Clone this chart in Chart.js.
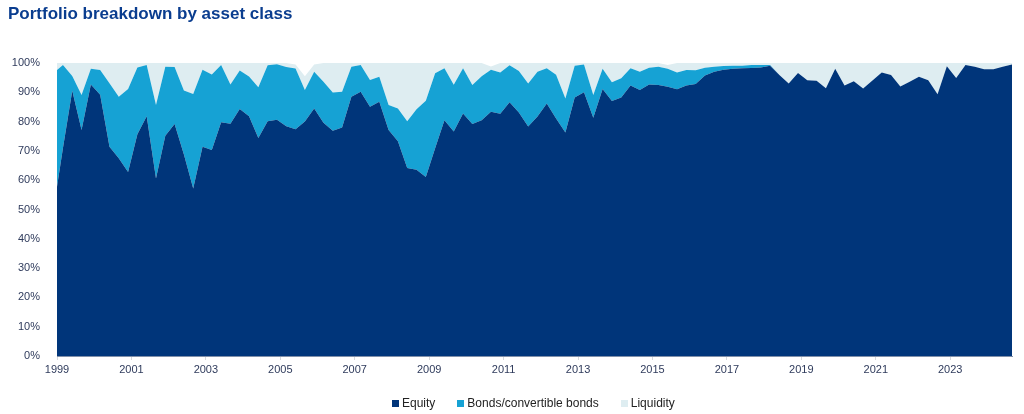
<!DOCTYPE html>
<html>
<head>
<meta charset="utf-8">
<script src="https://cdn.jsdelivr.net/npm/chart.js@4.4.1/dist/chart.umd.min.js"></script>
<style>
    html, body { margin: 0; padding: 0; background: #fff; }
    #wrap { position: relative; width: 1024px; height: 414px; overflow: hidden; }
    #title { position: absolute; left: 8px; top: 4px; font: bold 17px "Liberation Sans", Arial, sans-serif; color: #0a3d8f; }
    #legend { position: absolute; left: 392px; top: 396px; display: flex; font: 12px "Liberation Sans", Arial, sans-serif; color: #222; }
    #legend span.item { display: flex; align-items: center; margin-right: 22px; }
    #legend span.box { display: inline-block; width: 7px; height: 7px; margin-right: 3px; }
</style>
</head>
<body>
<div id="wrap">
    <div id="title">Portfolio breakdown by asset class</div>
    <canvas id="myChart" width="1024" height="414"></canvas>
    <div id="legend"></div>
</div>
<script>
// sample dates (decimal years): start of 1999, then every quarter from end of February 1999
const dates = [1999.0];
for (let i = 0; i < 103; i++) {
    dates.push(1999.16 + i * 0.25);
}
const tickYears = [1999, 2001, 2003, 2005, 2007, 2009, 2011, 2013, 2015, 2017, 2019, 2021, 2023];

const seriesNames = ['Equity', 'Bonds/convertible bonds', 'Liquidity'];
const seriesColors = ['#00357a', '#16a2d4', '#deedf1'];

// portfolio weights in %
const equity = [
    57.8, 71.0, 90.5, 77.1, 92.7, 89.2, 71.4, 67.5, 62.8, 75.7,
    81.8, 60.6, 75.2, 79.2, 68.8, 57.2, 71.4, 70.3, 79.8, 79.3,
    84.3, 81.8, 74.4, 80.1, 80.6, 78.4, 77.4, 80.0, 84.5, 79.6,
    76.9, 78.0, 88.5, 90.2, 85.1, 86.8, 77.1, 73.3, 64.2, 63.6,
    61.1, 70.9, 80.5, 76.6, 82.8, 79.2, 80.5, 83.4, 82.7, 86.6,
    83.1, 78.3, 81.7, 86.2, 81.1, 76.3, 88.2, 90.0, 81.3, 91.1,
    87.0, 88.2, 92.3, 90.8, 92.7, 92.5, 91.9, 91.0, 92.3, 92.8,
    95.7, 97.0, 97.7, 98.0, 98.2, 98.3, 98.5, 99.1, 95.9, 93.0,
    96.6, 94.1, 93.9, 91.4, 98.0, 92.3, 93.8, 91.3, 94.0, 96.8,
    95.9, 92.0, 93.6, 95.3, 94.1, 89.3, 98.9, 94.9, 99.3, 98.7,
    97.9, 97.9, 98.7, 99.5
];
const bonds = [
    39.8, 28.3, 5.1, 12.0, 5.3, 8.4, 21.7, 21.0, 28.3, 22.8,
    17.5, 25.1, 23.5, 19.4, 21.8, 32.2, 26.3, 25.8, 19.5, 13.4,
    13.1, 13.6, 17.3, 19.1, 19.0, 20.2, 20.7, 10.8, 12.5, 14.0,
    13.0, 12.2, 10.2, 9.1, 9.1, 8.5, 8.6, 11.2, 15.9, 20.6,
    26.0, 25.6, 17.7, 16.0, 15.4, 13.3, 15.0, 14.3, 14.1, 12.6,
    14.2, 14.7, 15.3, 12.0, 14.9, 11.6, 10.9, 9.5, 7.8, 6.9,
    6.4, 6.6, 5.9, 6.2, 5.7, 6.2, 6.1, 5.8, 5.3, 4.7,
    2.7, 1.7, 1.3, 1.1, 0.9, 1.0, 0.8, 0.2, 0, 0,
    0, 0, 0, 0, 0, 0, 0, 0, 0, 0,
    0, 0, 0, 0, 0, 0, 0, 0, 0, 0,
    0, 0, 0, 0
];
const liquidity = [
    2.4, 0.7, 4.4, 10.9, 2.0, 2.4, 6.9, 11.5, 8.9, 1.5,
    0.7, 14.3, 1.3, 1.4, 9.4, 10.6, 2.3, 3.9, 0.7, 7.3,
    2.6, 4.6, 8.3, 0.8, 0.4, 1.4, 1.4, 4.7, 2.5, 6.4,
    10.1, 9.8, 1.3, 0.7, 5.8, 4.7, 14.3, 15.5, 19.9, 15.8,
    12.9, 3.5, 1.8, 7.4, 1.8, 7.5, 4.5, 1.1, 3.2, 0.8,
    2.7, 7.0, 3.0, 1.8, 4.0, 12.1, 0.9, 0.5, 10.9, 2.0,
    6.6, 5.2, 1.8, 3.0, 1.6, 1.3, 1.3, 3.2, 2.4, 2.5,
    1.6, 1.3, 1.0, 0.9, 0.9, 0.7, 0.7, 0.7, 4.1, 7.0,
    3.4, 5.9, 6.1, 8.6, 2.0, 7.7, 6.2, 8.7, 6.0, 3.2,
    4.1, 8.0, 6.4, 4.7, 5.9, 10.7, 1.1, 5.1, 0.7, 1.3,
    2.1, 2.1, 1.3, 0.5
];

document.addEventListener('DOMContentLoaded', function () {
    const ctx = document.getElementById('myChart');
    const values = [equity, bonds, liquidity];
    const _datasets = values.map(function (arr, i) {
        return {
            label: seriesNames[i],
            data: arr.map((v, k) => ({ x: dates[k], y: v })),
            backgroundColor: seriesColors[i],
            borderWidth: 0,
            pointRadius: 0,
            tension: 0,
            fill: i === 0 ? 'origin' : '-1'
        };
    });

    new Chart(ctx, {
        type: 'line',
        data: { datasets: _datasets },
        options: {
            responsive: false,
            animation: false,
            layout: { padding: { left: 7, right: 12, top: 63, bottom: 36 } },
            plugins: {
                legend: { display: false },
                tooltip: { enabled: false }
            },
            scales: {
                x: {
                    type: 'linear',
                    min: dates[0],
                    max: dates[dates.length - 1],
                    afterBuildTicks: (axis) => { axis.ticks = tickYears.map(v => ({ value: v })); },
                    afterFit: (scale) => { scale.height = 22; },
                    grid: { display: true, drawOnChartArea: false, drawTicks: true, tickLength: 4, color: '#d6d9de' },
                    border: { display: true, color: '#8090aa', width: 1 },
                    ticks: {
                        padding: 3,
                        maxRotation: 0,
                        autoSkip: false,
                        color: '#2f3b5c',
                        font: { family: '"Liberation Sans", Arial, sans-serif', size: 11 },
                        callback: (v) => String(v)
                    }
                },
                y: {
                    stacked: true,
                    min: 0,
                    max: 100,
                    afterFit: (scale) => { scale.width = 50; },
                    grid: { display: false },
                    border: { display: false },
                    ticks: {
                        stepSize: 10,
                        padding: 9,
                        color: '#2f3b5c',
                        font: { family: '"Liberation Sans", Arial, sans-serif', size: 11 },
                        callback: (v) => v + '%'
                    }
                }
            }
        }
    });

    // html legend built from the same names and colours
    let html = '';
    seriesNames.forEach(function (name, i) {
        html += `<span class="item"><span class="box" style="background:${seriesColors[i]}"></span>${name}</span>`;
    });
    document.getElementById('legend').innerHTML = html;
});
</script>
</body>
</html>
